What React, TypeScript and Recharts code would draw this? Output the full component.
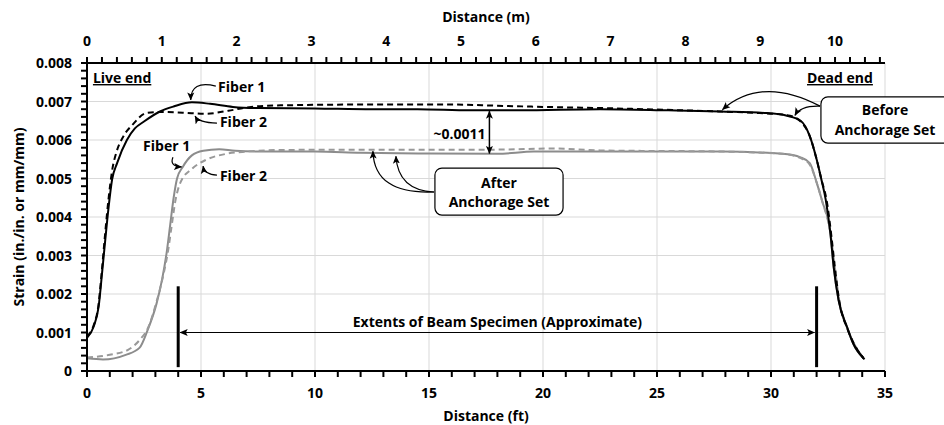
import { LineChart, Line, XAxis, YAxis, ReferenceLine } from 'recharts';

const FT_PER_M = 3.28084;
const MAX_FT = 35;
const MAX_STRAIN = 0.008;

// Strain along the strand before anchorage set (distance in ft)
const beforeFiber1Ft = [0, 0.29, 0.51, 0.66, 0.8, 0.95, 1.1, 1.32, 1.75, 2.1, 2.5, 3.2, 3.8, 4.6, 5.4, 6.4, 7.5, 10, 12.5, 14.5, 16.8, 19, 22.5, 25.5, 27.8, 29.8, 30.7, 31.3, 31.7, 32.0, 32.2, 32.4, 32.6, 32.75, 32.96, 33.33, 33.6, 34.06];
const beforeFiber1Strain = [0.00086, 0.00115, 0.00167, 0.00254, 0.0034, 0.00427, 0.00497, 0.0054, 0.006, 0.0063, 0.00648, 0.00674, 0.00687, 0.00698, 0.00694, 0.00686, 0.00683, 0.00682, 0.0068, 0.0068, 0.00677, 0.00677, 0.0068, 0.00677, 0.00674, 0.0067, 0.00663, 0.0065, 0.0061, 0.0055, 0.005, 0.00445, 0.0036, 0.0027, 0.00185, 0.00115, 0.00072, 0.00033];

const beforeFiber2Ft = [0, 0.3, 0.5, 0.65, 0.8, 0.95, 1.1, 1.3, 1.6, 2.0, 2.6, 3.2, 4.2, 5.2, 6.2, 7.2, 8.5, 12, 16, 18, 20, 22.5, 25, 27.8, 29.5, 30.5, 31.0, 31.3, 31.7, 32.0, 32.2, 32.45, 32.65, 32.8, 33.0, 33.35, 33.65, 34.1];
const beforeFiber2Strain = [0.0009, 0.0012, 0.0017, 0.0026, 0.0036, 0.0045, 0.0052, 0.0057, 0.0061, 0.0064, 0.0067, 0.00673, 0.00671, 0.00668, 0.00676, 0.00686, 0.0069, 0.00692, 0.00692, 0.00689, 0.00686, 0.00683, 0.00679, 0.00674, 0.0067, 0.00666, 0.0066, 0.00648, 0.0061, 0.0055, 0.005, 0.0044, 0.0035, 0.0027, 0.0018, 0.0011, 0.0007, 0.0003];

// Strain after anchorage set
const afterFiber1Ft = [0, 0.7, 1.7, 2.3, 2.65, 3.05, 3.3, 3.5, 3.65, 3.8, 3.95, 4.2, 4.6, 5.1, 5.8, 6.5, 8, 10, 12, 15, 18, 19.6, 22.5, 27.8, 30.5, 31.3, 31.7, 32.0, 32.25, 32.6, 32.75, 32.96, 33.33, 33.6, 34.06];
const afterFiber1Strain = [0.00033, 0.0003, 0.00042, 0.0006, 0.00105, 0.00175, 0.0024, 0.0031, 0.0038, 0.0045, 0.005, 0.0053, 0.0056, 0.00572, 0.00576, 0.00572, 0.0057, 0.0057, 0.00567, 0.00565, 0.00564, 0.0057, 0.0057, 0.0057, 0.00564, 0.00555, 0.0054, 0.0049, 0.0044, 0.0036, 0.0027, 0.00185, 0.00115, 0.00072, 0.00033];

const afterFiber2Ft = [0, 1.0, 1.8, 2.3, 2.7, 3.05, 3.35, 3.55, 3.72, 3.87, 4.1, 4.6, 5.2, 6.1, 7.0, 8.5, 12, 16, 18, 20.4, 22.5, 27.8, 30.5, 31.3, 31.7, 32.0, 32.25, 32.6, 32.8, 33.0, 33.35, 33.65, 34.1];
const afterFiber2Strain = [0.00035, 0.00042, 0.00055, 0.0008, 0.00115, 0.0018, 0.0025, 0.0031, 0.0038, 0.0044, 0.0049, 0.00525, 0.00548, 0.00564, 0.0057, 0.00574, 0.00575, 0.00575, 0.00575, 0.00578, 0.00573, 0.0057, 0.00564, 0.00553, 0.00536, 0.0049, 0.0044, 0.0036, 0.0027, 0.0018, 0.0011, 0.0007, 0.0003];

// Labelled ticks
const ftLabels = [0, 5, 10, 15, 20, 25, 30, 35];
const mLabels = [0, 1, 2, 3, 4, 5, 6, 7, 8, 9, 10];
const strainLabels = [0, 0.001, 0.002, 0.003, 0.004, 0.005, 0.006, 0.007, 0.008];

// Beam specimen ends and the before/after gap
const specimenStartFt = 4;
const specimenEndFt = 32;
const gapAtFt = 17.65;
const gapTop = 0.00675;
const gapBottom = 0.00565;

// minor ticks: 1 ft, 0.2 m, 0.0002
const ftTicks = Array.from({ length: 36 }, (_, i) => i);
const mTicks = Array.from({ length: 54 }, (_, i) => +(i * 0.2).toFixed(1));
const strainTicks = Array.from({ length: 41 }, (_, i) => +(i * 0.0002).toFixed(4));

const gridFt = [5, 10, 15, 20, 25, 30, 35];
const gridStrain = [0.001, 0.002, 0.003, 0.004, 0.005, 0.006, 0.007];

const toPoints = (xs: number[], ys: number[]) => xs.map((x, i) => ({ x, y: ys[i] }));

const W = 944;
const H = 425;
const PLOT = { left: 87, top: 63, right: 885, bottom: 371 };
const TICK = 6;
const FONT = '"Open Sans", Lato, sans-serif';

const sx = (ft: number) => PLOT.left + (ft / MAX_FT) * (PLOT.right - PLOT.left);
const sy = (s: number) => PLOT.bottom - (s / MAX_STRAIN) * (PLOT.bottom - PLOT.top);

const textProps = { fontFamily: FONT, fontWeight: 700, fontSize: 14, fill: '#000' };

// ticks are drawn here too so every minor mark gets a line
const FtTick = (props: any) => {
  const { x, payload } = props;
  const v = payload.value;
  return (
    <g>
      <line x1={x} x2={x} y1={PLOT.bottom} y2={PLOT.bottom + TICK} stroke="#000" strokeWidth={2} />
      {ftLabels.includes(v) && (
        <text x={x} y={PLOT.bottom + 27} textAnchor="middle" {...textProps}>
          {v}
        </text>
      )}
    </g>
  );
};

const StrainTick = (props: any) => {
  const { y, payload } = props;
  const v = payload.value;
  const labelled = strainLabels.some((s) => Math.abs(s - v) < 1e-9);
  return (
    <g>
      <line x1={PLOT.left - TICK} x2={PLOT.left} y1={y} y2={y} stroke="#000" strokeWidth={2} />
      {labelled && (
        <text x={PLOT.left - 15} y={y + 5} textAnchor="end" {...textProps}>
          {v === 0 ? '0' : v.toFixed(3)}
        </text>
      )}
    </g>
  );
};

// secondary metric scale along the top edge
const MetricAxis = () => (
  <g>
    <line x1={PLOT.left} x2={PLOT.right} y1={PLOT.top} y2={PLOT.top} stroke="#000" strokeWidth={2} />
    {mTicks.map((m) => {
      const x = sx(m * FT_PER_M);
      return <line key={`mt${m}`} x1={x} x2={x} y1={PLOT.top} y2={PLOT.top - TICK} stroke="#000" strokeWidth={2} />;
    })}
    {mLabels.map((m) => (
      <text key={`ml${m}`} x={sx(m * FT_PER_M)} y={PLOT.top - 17} textAnchor="middle" {...textProps}>
        {m}
      </text>
    ))}
  </g>
);

type Pt = [number, number];
const p = ([ft, s]: Pt) => `${sx(ft)},${sy(s)}`;
const curve = (a: Pt, c: Pt, b: Pt) => `M${p(a)} Q${p(c)} ${p(b)}`;

const Annotations = () => (
  <svg width={W} height={H} style={{ position: 'absolute', left: 0, top: 0, pointerEvents: 'none' }}>
    <defs>
      <marker id="head" markerWidth="8" markerHeight="8" refX="7.5" refY="4" orient="auto-start-reverse" markerUnits="userSpaceOnUse">
        <path d="M0,0.5 L8,4 L0,7.5 L1.8,4 Z" fill="#000" />
      </marker>
    </defs>

    <MetricAxis />

    {/* axis titles */}
    <text x={(PLOT.left + PLOT.right) / 2} y={22} textAnchor="middle" {...textProps}>Distance (m)</text>
    <text x={(PLOT.left + PLOT.right) / 2} y={421} textAnchor="middle" {...textProps}>Distance (ft)</text>
    <text transform={`translate(24, ${(PLOT.top + PLOT.bottom) / 2}) rotate(-90)`} textAnchor="middle" {...textProps}>
      Strain (in./in. or mm/mm)
    </text>

    {/* ends */}
    <text x={sx(0.26)} y={sy(0.00748)} textDecoration="underline" {...textProps}>Live end</text>
    <text x={sx(34.47)} y={sy(0.00748)} textAnchor="end" textDecoration="underline" {...textProps}>Dead end</text>

    {/* fiber callouts */}
    <text x={sx(5.75)} y={sy(0.00725)} {...textProps}>Fiber 1</text>
    <path d={curve([5.65, 0.0074], [4.55, 0.00756], [4.55, 0.00704])} fill="none" stroke="#000" strokeWidth={1.2} markerEnd="url(#head)" />
    <text x={sx(5.83)} y={sy(0.00634)} {...textProps}>Fiber 2</text>
    <path d={curve([5.7, 0.00644], [4.9, 0.00645], [4.74, 0.00662])} fill="none" stroke="#000" strokeWidth={1.2} markerEnd="url(#head)" />
    <text x={sx(2.46)} y={sy(0.00571)} {...textProps}>Fiber 1</text>
    <path d={curve([3.77, 0.00555], [3.6, 0.00532], [4.15, 0.0053])} fill="none" stroke="#000" strokeWidth={1.2} markerEnd="url(#head)" />
    <text x={sx(5.83)} y={sy(0.00494)} {...textProps}>Fiber 2</text>
    <path d={curve([5.7, 0.00509], [5.15, 0.0051], [5.09, 0.00532])} fill="none" stroke="#000" strokeWidth={1.2} markerEnd="url(#head)" />

    {/* loss across anchorage set */}
    <text x={sx(gapAtFt) - 4} y={sy(0.00603)} textAnchor="end" {...textProps}>~0.0011</text>
    <line x1={sx(gapAtFt)} x2={sx(gapAtFt)} y1={sy(gapTop)} y2={sy(gapBottom)} stroke="#000" strokeWidth={1.5} markerStart="url(#head)" markerEnd="url(#head)" />

    {/* after anchorage set callout */}
    <path d={curve([15.22, 0.00465], [12.6, 0.00458], [12.54, 0.00571])} fill="none" stroke="#000" strokeWidth={1.2} markerEnd="url(#head)" />
    <path d={curve([15.22, 0.00465], [13.64, 0.0047], [13.55, 0.00558])} fill="none" stroke="#000" strokeWidth={1.2} markerEnd="url(#head)" />
    <rect x={sx(15.26)} y={sy(0.00527)} width={sx(20.88) - sx(15.26)} height={sy(0.00405) - sy(0.00527)} rx={7} fill="#fff" stroke="#000" strokeWidth={1.2} />
    <text x={sx(18.07)} y={sy(0.00475)} textAnchor="middle" {...textProps}>After</text>
    <text x={sx(18.07)} y={sy(0.00426)} textAnchor="middle" {...textProps}>Anchorage Set</text>

    {/* before anchorage set callout */}
    <path d={curve([32.15, 0.00688], [29.6, 0.00768], [27.87, 0.00679])} fill="none" stroke="#000" strokeWidth={1.2} markerEnd="url(#head)" />
    <path d={curve([32.15, 0.00688], [31.3, 0.0069], [31.05, 0.00664])} fill="none" stroke="#000" strokeWidth={1.2} markerEnd="url(#head)" />
    <rect x={sx(32.19)} y={sy(0.00712)} width={140} height={sy(0.00592) - sy(0.00712)} rx={7} fill="#fff" stroke="#000" strokeWidth={1.2} />
    <text x={sx(35)} y={sy(0.00665)} textAnchor="middle" {...textProps}>Before</text>
    <text x={sx(35)} y={sy(0.00613)} textAnchor="middle" {...textProps}>Anchorage Set</text>

    {/* beam specimen extents */}
    <line x1={sx(specimenStartFt)} x2={sx(specimenStartFt)} y1={sy(0.0022)} y2={sy(0.0001)} stroke="#000" strokeWidth={3} />
    <line x1={sx(specimenEndFt)} x2={sx(specimenEndFt)} y1={sy(0.0022)} y2={sy(0.0001)} stroke="#000" strokeWidth={3} />
    <line x1={sx(specimenStartFt) + 2} x2={sx(specimenEndFt) - 2} y1={sy(0.001)} y2={sy(0.001)} stroke="#000" strokeWidth={1.2} markerStart="url(#head)" markerEnd="url(#head)" />
    <text x={sx((specimenStartFt + specimenEndFt) / 2)} y={sy(0.00114)} textAnchor="middle" {...textProps}>
      Extents of Beam Specimen (Approximate)
    </text>
  </svg>
);

export default function App() {
  return (
    <div style={{ position: 'absolute', left: 0, top: 0, width: W, height: H, background: '#fff' }}>
      <LineChart width={W} height={H} margin={{ top: PLOT.top, right: W - PLOT.right, bottom: 24, left: 27 }}>
        <XAxis
          xAxisId="ft"
          type="number"
          dataKey="x"
          domain={[0, MAX_FT]}
          ticks={ftTicks}
          interval={0}
          tick={FtTick}
          tickLine={false}
          axisLine={{ stroke: '#000', strokeWidth: 2 }}
          height={30}
          allowDataOverflow
        />
        <YAxis
          type="number"
          domain={[0, MAX_STRAIN]}
          ticks={strainTicks}
          interval={0}
          tick={StrainTick}
          tickLine={false}
          axisLine={{ stroke: '#000', strokeWidth: 2 }}
          width={60}
          allowDataOverflow
        />
        {gridFt.map((v) => (
          <ReferenceLine key={`gx${v}`} xAxisId="ft" x={v} stroke="#d9d9d9" strokeWidth={1} />
        ))}
        {gridStrain.map((v) => (
          <ReferenceLine key={`gy${v}`} xAxisId="ft" y={v} stroke="#d9d9d9" strokeWidth={1} />
        ))}
        <Line xAxisId="ft" data={toPoints(afterFiber1Ft, afterFiber1Strain)} dataKey="y" type="monotone" stroke="#8c8c8c" strokeWidth={2} dot={false} activeDot={false} isAnimationActive={false} />
        <Line xAxisId="ft" data={toPoints(afterFiber2Ft, afterFiber2Strain)} dataKey="y" type="monotone" stroke="#999999" strokeWidth={2} strokeDasharray="6 4" dot={false} activeDot={false} isAnimationActive={false} />
        <Line xAxisId="ft" data={toPoints(beforeFiber1Ft, beforeFiber1Strain)} dataKey="y" type="monotone" stroke="#000" strokeWidth={2} dot={false} activeDot={false} isAnimationActive={false} />
        <Line xAxisId="ft" data={toPoints(beforeFiber2Ft, beforeFiber2Strain)} dataKey="y" type="monotone" stroke="#000" strokeWidth={2} strokeDasharray="6 4" dot={false} activeDot={false} isAnimationActive={false} />
      </LineChart>
      <Annotations />
    </div>
  );
}
